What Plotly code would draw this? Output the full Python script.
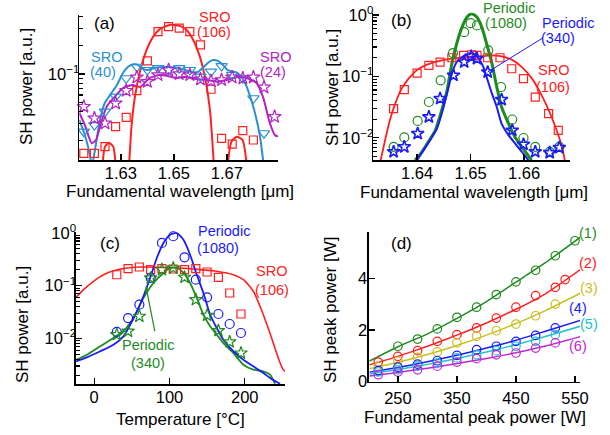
import plotly.graph_objects as go
import math

FONT = "Liberation Sans, Arial, sans-serif"
RED = "#ff2020"; GREEN = "#1e8c1e"; BLUE = "#1a1aff"; LBLUE = "#2a90d2"; MAG = "#b322c4"
YEL = "#c9bf22"; CYAN = "#22c3c9"; MAG2 = "#c027d6"

# ---------------- panel (a) ----------------
a_sq_x = [1.616, 1.620, 1.624, 1.628, 1.632, 1.636, 1.640, 1.644, 1.648, 1.652, 1.656, 1.660, 1.664, 1.668, 1.672, 1.676, 1.680]
a_sq_y = [0.0146, 0.0146, 0.0172, 0.0279, 0.035, 0.0667, 0.137, 0.279, 0.315, 0.303, 0.279, 0.202, 0.069, 0.021, 0.0183, 0.0253, 0.0202]
a_tri_x = [1.616, 1.620, 1.624, 1.628, 1.632, 1.636, 1.640, 1.644, 1.648, 1.652, 1.656, 1.660, 1.664, 1.668, 1.672, 1.676, 1.680, 1.684]
a_tri_y = [0.0247, 0.029, 0.0401, 0.0577, 0.0901, 0.119, 0.110, 0.115, 0.110, 0.115, 0.110, 0.0937, 0.106, 0.121, 0.0976, 0.0901, 0.0555, 0.0238]
a_star_x = [1.616, 1.620, 1.624, 1.628, 1.632, 1.636, 1.640, 1.644, 1.648, 1.652, 1.656, 1.660, 1.664, 1.668, 1.672, 1.676, 1.680, 1.684, 1.688]
a_star_y = [0.0453, 0.0342, 0.0303, 0.0492, 0.0667, 0.0923, 0.0829, 0.0976, 0.110, 0.100, 0.0976, 0.0880, 0.0844, 0.0865, 0.0923, 0.0901, 0.0923, 0.0724, 0.0355]

a_red_x = [1.6227, 1.6240, 1.6255, 1.6271, 1.6284, None,
           1.6328, 1.6340, 1.6353, 1.6372, 1.6397, 1.6422, 1.6447, 1.6485, 1.6522, 1.6548, 1.6573, 1.6598, 1.6617, 1.6636, 1.6654, None,
           1.6698, 1.6717, 1.6738, 1.6759, 1.6780]
a_red_y = [0.008, 0.0172, 0.0189, 0.0172, 0.008, None,
           0.008, 0.0279, 0.0577, 0.106, 0.179, 0.247, 0.296, 0.328, 0.320, 0.290, 0.228, 0.152, 0.0937, 0.0418, 0.008, None,
           0.008, 0.0194, 0.0219, 0.0202, 0.008]
a_blue_x = [1.6143, 1.6164, 1.6179, 1.6191, 1.6202, 1.6221, 1.6239, 1.6259, 1.6285, 1.6308, 1.6326, 1.6345, 1.6364, 1.6383, 1.6402,
            1.6428, 1.6458, 1.6485, 1.6515, 1.6541, 1.6568, 1.6590, 1.6609, 1.6628, 1.6647, 1.6666, 1.6685, 1.6703, 1.6730, 1.6749,
            1.6767, 1.6786, 1.6805, 1.6824, 1.6839]
a_blue_y = [0.0328, 0.0228, 0.0158, 0.011, 0.0158, 0.0328, 0.0495, 0.0601, 0.0766, 0.1025, 0.1185, 0.126, 0.1245, 0.113, 0.110,
            0.116, 0.1185, 0.1185, 0.116, 0.110, 0.105, 0.105, 0.116, 0.1306, 0.140, 0.137, 0.1245, 0.110, 0.105, 0.0976,
            0.0824, 0.0601, 0.0398, 0.0228, 0.011]
a_mag_x = [1.6143, 1.6164, 1.6190, 1.6206, 1.6221, 1.6246, 1.6277, 1.6309, 1.6345, 1.6372, 1.6409, 1.6447, 1.6477, 1.6510, 1.6548,
           1.6585, 1.6623, 1.6661, 1.6698, 1.6736, 1.6774, 1.6812, 1.6836, 1.6862, 1.6881, 1.6893]
a_mag_y = [0.0388, 0.029, 0.0187, 0.0202, 0.0279, 0.0453, 0.0577, 0.0713, 0.0766, 0.0730, 0.0908, 0.0976, 0.0953, 0.0908, 0.0937,
           0.0885, 0.0865, 0.0829, 0.0865, 0.0923, 0.0908, 0.0804, 0.0577, 0.0305, 0.0228, 0.0219]

# ---------------- panel (b) ----------------
b_sq_x = [1.6356, 1.6376, 1.6400, 1.6422, 1.6443, 1.6465, 1.6487, 1.6502, 1.6512, 1.6532, 1.6555, 1.6577, 1.6599, 1.6621, 1.6646, 1.6664]
b_sq_y = [0.0298, 0.0608, 0.113, 0.151, 0.171, 0.201, 0.219, 0.225, 0.219, 0.201, 0.201, 0.133, 0.0918, 0.046, 0.0247, 0.0132]
b_circ_x = [1.6356, 1.6376, 1.6401, 1.6422, 1.6444, 1.6467, 1.6488, 1.6500, 1.6512, 1.6533, 1.6557, 1.6578, 1.6599, 1.6621, 1.6648, 1.6666]
b_circ_y = [0.0071, 0.0101, 0.0188, 0.0382, 0.0861, 0.239, 0.525, 0.736, 0.675, 0.265, 0.067, 0.0198, 0.0099, 0.0071, 0.0059, 0.0071]
b_star_x = [1.6356, 1.6376, 1.6401, 1.6422, 1.6443, 1.6468, 1.6488, 1.6501, 1.6512, 1.6532, 1.6558, 1.6578, 1.6599, 1.6621, 1.6648, 1.6666]
b_star_y = [0.0059, 0.0071, 0.0117, 0.0218, 0.0434, 0.104, 0.171, 0.211, 0.194, 0.1175, 0.0418, 0.0132, 0.0078, 0.0059, 0.0057, 0.0069]

b_red_x = [1.6331, 1.6340, 1.6349, 1.6359, 1.6371, 1.6384, 1.6399, 1.6415, 1.6440, 1.6465, 1.6490, 1.6515, 1.6540, 1.6558, 1.6577,
           1.6596, 1.6615, 1.6633, 1.6649, 1.6661, 1.6671, 1.6677]
b_red_y = [0.004, 0.0091, 0.0193, 0.036, 0.063, 0.0918, 0.125, 0.151, 0.177, 0.194, 0.206, 0.211, 0.219, 0.211, 0.187,
           0.1415, 0.0918, 0.0491, 0.0247, 0.0132, 0.0071, 0.004]
b_grn_x = [1.6396, 1.6409, 1.6421, 1.6434, 1.6446, 1.6456, 1.6465, 1.6474, 1.6484, 1.6493, 1.6502, 1.6512, 1.6521, 1.6530, 1.6540,
           1.6549, 1.6558, 1.6571, 1.6583, 1.6596, 1.6614]
b_grn_y = [0.0043, 0.00587, 0.00855, 0.0132, 0.028, 0.0591, 0.161, 0.340, 0.634, 0.921, 1.046, 0.921, 0.634, 0.340, 0.161,
           0.067, 0.0317, 0.017, 0.0103, 0.0071, 0.0043]
b_blu_x = [1.6400, 1.6412, 1.6424, 1.6437, 1.6446, 1.6456, 1.6465, 1.6474, 1.6484, 1.6496, 1.6505, 1.6515, 1.6524, 1.6530, 1.6540,
           1.6549, 1.6558, 1.6571, 1.6583, 1.6596, 1.6608]
b_blu_y = [0.0043, 0.00627, 0.0091, 0.0141, 0.0247, 0.0523, 0.1107, 0.171, 0.206, 0.234, 0.234, 0.194, 0.1415, 0.0975, 0.0523,
           0.0317, 0.017, 0.011, 0.0081, 0.00587, 0.0043]

# ---------------- panel (c) ----------------
c_T = [30, 45, 60, 75, 90, 105, 120, 135, 150, 165, 180, 195]
c_sq_y = [0.161, 0.21, 0.226, 0.201, 0.21, 0.207, 0.201, 0.21, 0.1815, 0.144, 0.0727, 0.0291]
c_circ_y = [0.0133, 0.0244, 0.0436, 0.14, 0.644, 0.863, 0.345, 0.13, 0.0603, 0.0291, 0.0188, 0.0127]
c_star_y = [0.0118, 0.0137, 0.0263, 0.14, 0.201, 0.216, 0.144, 0.0543, 0.0275, 0.0141, 0.0086, 0.0053]

c_red_T = [-23.9, -14.2, -0.9, 12.3, 25.6, 43.4, 61, 87.6, 114.1, 140.7, 162.8, 184.9, 198.2, 211.4, 224.7, 235.7, 244.5, 251.1, 254.7]
c_red_y = [0.0603, 0.084, 0.121, 0.161, 0.192, 0.216, 0.226, 0.223, 0.216, 0.201, 0.1875, 0.161, 0.13, 0.0783, 0.0282, 0.0102, 0.00428, 0.00257, 0.00232]
c_blu_T = [-23.9, -9.7, 8, 25.6, 38.9, 47.8, 56.7, 65.4, 74.3, 83.2, 92, 100.9, 109.8, 118.6, 127.4, 136.3, 145.1, 154, 162.8,
           171.6, 184.9, 198.2, 211.4, 224.7, 233.6, 246.9]
c_blu_y = [0.0037, 0.0044, 0.00573, 0.00764, 0.011, 0.0182, 0.0327, 0.063, 0.14, 0.335, 0.644, 0.925, 0.995, 0.743, 0.386, 0.161,
           0.0727, 0.0282, 0.0158, 0.0095, 0.00573, 0.00396, 0.00297, 0.00222, 0.00179, 0.00139]
c_grn_T = [-23.9, -9.7, 8, 25.6, 38.9, 52.2, 65.4, 78.7, 92, 100.9, 109.8, 118.6, 127.4, 136.3, 145.1, 154, 162.8, 171.6, 184.9,
           198.2, 211.4, 224.7, 233.6, 240.2]
c_grn_y = [0.00396, 0.00493, 0.00711, 0.0102, 0.0137, 0.0244, 0.0585, 0.1125, 0.174, 0.216, 0.216, 0.174, 0.1125, 0.0585, 0.0282,
           0.017, 0.0118, 0.0082, 0.0053, 0.00319, 0.00257, 0.00239, 0.00206, 0.00139]

# ---------------- panel (d) ----------------
d_x = [216.7, 250, 283.3, 316.7, 350, 383.3, 416.7, 450, 483.3, 516.7]
d1_x = [250, 283.3, 316.7, 350, 383.3, 416.7, 450, 483.3, 516.7, 550]
d1_y = [1.37, 1.65, 2.04, 2.49, 2.88, 3.37, 3.86, 4.31, 4.87, 5.45]
d2_x = [216.7, 250, 283.3, 316.7, 350, 383.3, 416.7, 450, 483.3, 516.7, 533.3]
d2_y = [0.76, 0.98, 1.2, 1.56, 1.82, 2.08, 2.46, 2.88, 3.33, 3.65, 3.95]
d3_y = [0.6, 0.79, 0.94, 1.15, 1.5, 1.76, 1.97, 2.23, 2.55, 3.0]
d4_y = [0.43, 0.56, 0.68, 0.81, 1.02, 1.24, 1.37, 1.56, 1.79, 2.08]
d5_y = [0.375, 0.46, 0.6, 0.72, 0.92, 1.04, 1.2, 1.37, 1.56, 1.82]
d6_y = [0.27, 0.375, 0.46, 0.6, 0.76, 0.89, 1.04, 1.11, 1.3, 1.5]
fit_x = [202, 250, 300, 350, 400, 450, 500, 560]
fit1_y = [0.8, 1.35, 1.85, 2.45, 3.1, 3.85, 4.6, 5.6]
fit2_y = [0.65, 0.98, 1.37, 1.8, 2.27, 2.8, 3.4, 4.35]
fit3_y = [0.5, 0.75, 1.05, 1.4, 1.8, 2.25, 2.75, 3.43]
fit4_y = [0.37, 0.55, 0.77, 1.02, 1.3, 1.6, 1.95, 2.38]
fit5_y = [0.3, 0.47, 0.67, 0.9, 1.15, 1.43, 1.75, 2.15]
fit6_y = [0.22, 0.36, 0.52, 0.7, 0.9, 1.12, 1.38, 1.75]

W, H = 610, 435
fig = go.Figure()


def line(x, y, ax, color, width=1.6):
    fig.add_trace(go.Scatter(x=x, y=y, xaxis="x" + ax, yaxis="y" + ax, mode="lines",
                             line=dict(color=color, width=width, shape="spline", smoothing=0.6),
                             hoverinfo="skip"))


def pts(x, y, ax, color, symbol, size=8, lw=1.2):
    fig.add_trace(go.Scatter(x=x, y=y, xaxis="x" + ax, yaxis="y" + ax, mode="markers",
                             marker=dict(symbol=symbol, size=size, color=color, line=dict(color=color, width=lw)),
                             cliponaxis=False))


# (a)
line(a_red_x, a_red_y, "", RED, 2)
line(a_blue_x, a_blue_y, "", LBLUE, 2)
line(a_mag_x, a_mag_y, "", MAG, 2)
pts(a_sq_x, a_sq_y, "", RED, "square-open", 8)
pts(a_tri_x, a_tri_y, "", LBLUE, "triangle-down-open", 10)
pts(a_star_x, a_star_y, "", MAG, "star-open", 10)
# (b)
line(b_red_x, b_red_y, "2", RED, 1.8)
line(b_grn_x, b_grn_y, "2", GREEN, 3)
line(b_blu_x, b_blu_y, "2", BLUE, 2)
pts(b_sq_x, b_sq_y, "2", RED, "square-open", 8)
pts(b_circ_x, b_circ_y, "2", GREEN, "circle-open", 9)
pts(b_star_x, b_star_y, "2", BLUE, "star-open", 9.5, 1.6)
# (c)
line(c_red_T, c_red_y, "3", RED, 1.6)
line(c_grn_T, c_grn_y, "3", GREEN, 1.8)
line(c_blu_T, c_blu_y, "3", BLUE, 1.8)
pts(c_T, c_sq_y, "3", RED, "square-open", 8)
pts(c_T, c_circ_y, "3", BLUE, "circle-open", 9)
pts(c_T, c_star_y, "3", GREEN, "star-open", 9.5)
# (d)
for fy, col in [(fit1_y, GREEN), (fit2_y, RED), (fit3_y, YEL), (fit4_y, BLUE), (fit5_y, CYAN), (fit6_y, MAG2)]:
    fig.add_trace(go.Scatter(x=fit_x, y=fy, xaxis="x4", yaxis="y4", mode="lines",
                             line=dict(color=col, width=1.5, shape="spline", smoothing=0.5), hoverinfo="skip"))
pts(d1_x, d1_y, "4", GREEN, "circle-open", 8.5)
pts(d2_x, d2_y, "4", RED, "circle-open", 8.5)
pts(d_x, d3_y, "4", YEL, "circle-open", 8.5)
pts(d_x, d4_y, "4", BLUE, "circle-open", 8.5)
pts(d_x, d5_y, "4", CYAN, "circle-open", 8.5)
pts(d_x, d6_y, "4", MAG2, "circle-open", 8.5)


def dom_x(l, r):
    return [l / W, r / W]


def dom_y(top, bot):
    return [1 - bot / H, 1 - top / H]


base = dict(showline=True, linecolor="black", linewidth=1.6, ticks="inside", ticklen=6, tickwidth=1.4,
            tickcolor="black", showgrid=False, zeroline=False, tickmode="array", automargin=False,
            tickfont=dict(family=FONT, size=16.5, color="black"))


def minor_vals(lo_exp, hi_exp):
    v = []
    for e in range(lo_exp, hi_exp + 1):
        for m in range(2, 10):
            v.append(m * 10 ** e)
    return v


def logy(domain, anchor, rng, tv, tt, minors):
    d = dict(base)
    d.update(domain=domain, anchor=anchor, type="log", range=rng, tickvals=tv, ticktext=tt,
             ticklabelstandoff=-5,
             minor=dict(tickmode="array", tickvals=minors, ticks="inside", ticklen=3.5, tickwidth=1.2,
                        tickcolor="black", showgrid=False))
    return d


def linax(domain, anchor, rng, tv, tt=None, standoff=-2):
    d = dict(base)
    d.update(domain=domain, anchor=anchor, range=rng, tickvals=tv, ticklabelstandoff=standoff)
    if tt is not None:
        d["ticktext"] = tt
    return d


E = {0: "10<sup>0</sup>", -1: "10<sup>\u22121</sup>", -2: "10<sup>\u22122</sup>"}
a_ticks = [0.1]
b_ticks = [0.01, 0.1, 1]

fig.update_layout(
    template="none",
    width=W, height=H, margin=dict(l=0, r=0, t=0, b=0, pad=0), showlegend=False,
    paper_bgcolor="white", plot_bgcolor="white", font=dict(family=FONT, color="black"),
    xaxis=linax(dom_x(79.3, 278.3), "y", [1.6143, 1.6894], [1.63, 1.65, 1.67], ["1.63", "1.65", "1.67"]),
    yaxis=logy(dom_y(15, 160), "x", [-1.905, -0.38], a_ticks, [E[-1]], minor_vals(-2, -1)),
    xaxis2=linax(dom_x(373.3, 570), "y2", [1.6318, 1.6686], [1.64, 1.65, 1.66], ["1.64", "1.65", "1.66"]),
    yaxis2=logy(dom_y(12.7, 160), "x2", [-2.363, 0.037], b_ticks, [E[-2], E[-1], E[0]], minor_vals(-3, -1)),
    xaxis3=linax(dom_x(76, 285), "y3", [-24.2, 253.5], [0, 100, 200]),
    yaxis3=logy(dom_y(232.3, 384), "x3", [-2.862, 0.011], b_ticks, [E[-2], E[-1], E[0]], minor_vals(-3, -1)),
    xaxis4=linax(dom_x(369, 580), "y4", [201, 558.5], [250, 350, 450, 550], standoff=1),
    yaxis4=linax(dom_y(231.7, 381.7), "x4", [0, 5.8], [0, 2, 4], standoff=-3),
)

anns = []


def txt(s, px, py, color="black", size=14.5, angle=0):
    anns.append(dict(text=s, x=px / W, y=1 - py / H, xref="paper", yref="paper", showarrow=False,
                     xanchor="center", yanchor="middle", textangle=angle,
                     font=dict(family=FONT, size=size, color=color)))


# axis titles
txt("SH power [a.u.]", 27, 87, size=17, angle=-90)
txt("Fundamental wavelength [\u03bcm]", 180, 191, size=17)
txt("SH power [a.u.]", 332, 88, size=17, angle=-90)
txt("Fundamental wavelength [\u03bcm]", 474, 192, size=17)
txt("SH power [a.u.]", 22, 325, size=17, angle=-90)
txt("Temperature [\u00b0C]", 180, 419.5, size=17)
txt("SH peak power [W]", 330, 310, size=17, angle=-90)
txt("Fundamental peak power [W]", 475, 417, size=17)
# panel labels
txt("(a)", 104.7, 23.3, size=17)
txt("(b)", 401.7, 20.7, size=17)
txt("(c)", 110, 243, size=17)
txt("(d)", 401.7, 243, size=17)
# (a)
txt("SRO", 214.7, 16.7, RED); txt("(106)", 213.7, 32.3, RED)
txt("SRO", 106, 56.7, LBLUE); txt("(40)", 103.3, 71.7, LBLUE)
txt("SRO", 275, 56.7, MAG); txt("(24)", 272.7, 71.7, MAG)
# (b)
txt("Periodic", 509, 8.3, GREEN); txt("(1080)", 506, 22.7, GREEN)
txt("Periodic", 568.3, 22.7, BLUE); txt("(340)", 558.3, 38.3, BLUE)
txt("SRO", 553.3, 70, RED); txt("(106)", 553.3, 86.7, RED)
# (c)
txt("Periodic", 224, 230.7, BLUE); txt("(1080)", 218.3, 248, BLUE)
txt("SRO", 271.7, 271.3, RED); txt("(106)", 271.7, 289.7, RED)
txt("Periodic", 148.3, 344.7, GREEN); txt("(340)", 148.3, 363, GREEN)
# (d)
txt("(1)", 588.3, 233, GREEN)
txt("(2)", 588.3, 263, RED)
txt("(3)", 589.3, 288, YEL)
txt("(4)", 578.3, 308, BLUE)
txt("(5)", 589.3, 324, CYAN)
txt("(6)", 578.3, 346.3, MAG2)

# pointer lines
anns.append(dict(x=1.6532, y=math.log10(0.1175), xref="x2", yref="y2", text="", showarrow=True,
                 arrowhead=0, arrowwidth=1, arrowcolor=BLUE, ax=56.6, ay=-35, standoff=0))
anns.append(dict(x=68.6, y=math.log10(0.0975), xref="x3", yref="y3", text="", showarrow=True,
                 arrowhead=2, arrowsize=0.8, arrowwidth=1.2, arrowcolor=GREEN, ax=9.3, ay=46.7, standoff=0))

fig.update_layout(annotations=anns)
fig.write_html("out.html", config={"displayModeBar": False, "staticPlot": True},
               post_script="document.body.style.margin='0px';")
